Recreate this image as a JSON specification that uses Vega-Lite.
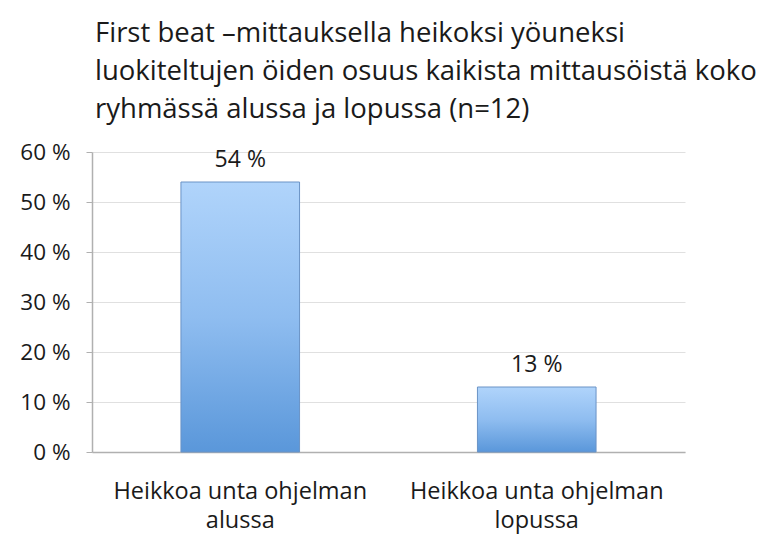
{
  "$schema": "https://vega.github.io/schema/vega-lite/v6.json",
  "width": 593,
  "height": 300,
  "autosize": {"type": "none"},
  "padding": {"left": 92, "top": 152, "right": 83, "bottom": 95},
  "background": "white",
  "title": {
    "text": ["First beat –mittauksella heikoksi yöuneksi", "luokiteltujen öiden osuus kaikista mittausöistä koko", "ryhmässä alussa ja lopussa (n=12)"],
    "anchor": "start",
    "frame": "group",
    "dx": 3,
    "offset": 18,
    "font": "Open Sans",
    "fontSize": 27.5,
    "fontWeight": "normal",
    "lineHeight": 38,
    "color": "#1a1a1a"
  },
  "config": {"view": {"stroke": null}},
  "data": {
    "values": [
      {"category": "Heikkoa unta ohjelman|alussa", "value": 54, "label": "54 %"},
      {"category": "Heikkoa unta ohjelman|lopussa", "value": 13, "label": "13 %"}
    ]
  },
  "encoding": {
    "x": {
      "field": "category",
      "type": "nominal",
      "sort": null,
      "scale": {"paddingInner": 0.6, "paddingOuter": 0.3},
      "axis": {
        "title": null,
        "labelAngle": 0,
        "labelExpr": "split(datum.value, '|')",
        "labelFont": "Open Sans",
        "labelFontSize": 23.5,
        "labelLineHeight": 29,
        "labelLimit": 0,
        "labelColor": "#1a1a1a",
        "labelPadding": 27,
        "ticks": false,
        "domainColor": "#b0b0b0",
        "domainWidth": 1.5
      }
    },
    "y": {
      "field": "value",
      "type": "quantitative",
      "scale": {"domain": [0, 60]},
      "axis": {
        "title": null,
        "values": [0, 10, 20, 30, 40, 50, 60],
        "labelExpr": "datum.value + ' %'",
        "labelFont": "Open Sans",
        "labelFontSize": 22.5,
        "labelColor": "#1a1a1a",
        "labelPadding": 16,
        "tickSize": 6,
        "tickColor": "#b0b0b0",
        "domainColor": "#b0b0b0",
        "domainWidth": 1.5,
        "gridColor": "#e0e0e0",
        "gridWidth": 1
      }
    }
  },
  "layer": [
    {
      "mark": {
        "type": "bar",
        "stroke": "#6a93c6",
        "strokeWidth": 1,
        "color": {
          "gradient": "linear",
          "x1": 0, "y1": 0, "x2": 0, "y2": 1,
          "stops": [
            {"offset": 0, "color": "#b0d4fb"},
            {"offset": 0.5, "color": "#8fbdf0"},
            {"offset": 1, "color": "#5a97da"}
          ]
        }
      }
    },
    {
      "mark": {"type": "text", "dy": -22, "font": "Open Sans", "fontSize": 23, "color": "#1a1a1a"},
      "encoding": {"text": {"field": "label"}}
    }
  ]
}
